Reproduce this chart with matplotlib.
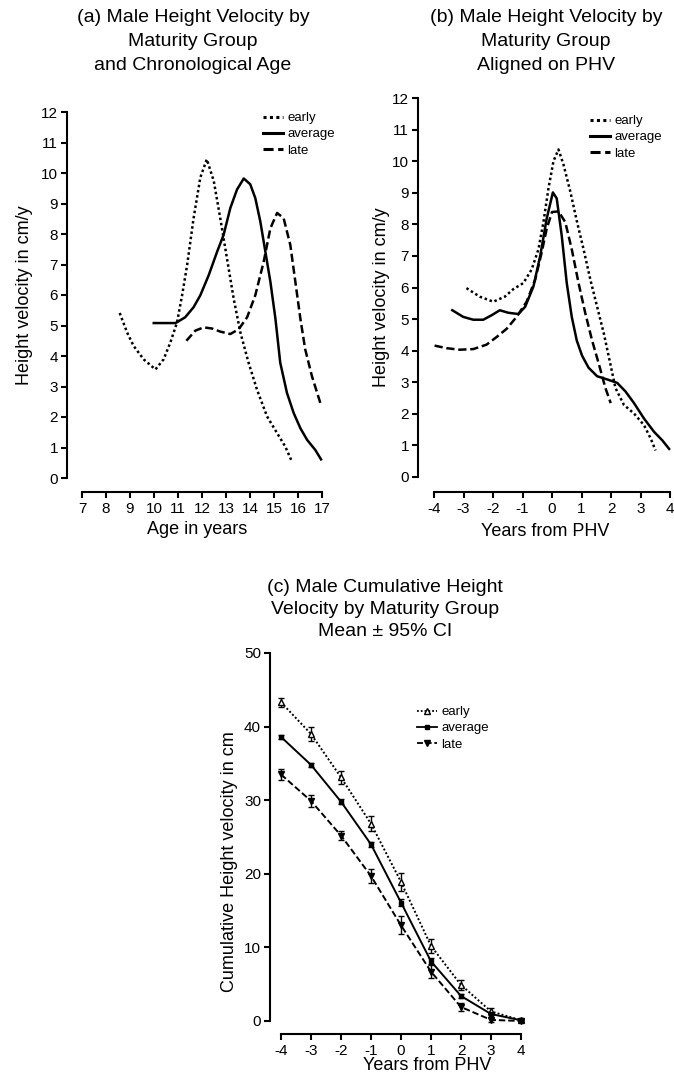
import numpy as np
import matplotlib
matplotlib.use("Agg")
import matplotlib.pyplot as plt
from matplotlib.lines import Line2D

plt.rcParams['font.family'] = ['Liberation Sans', 'DejaVu Sans']
plt.rcParams['axes.unicode_minus'] = False

# ---------------- data ----------------
# Panel (a): height velocity vs chronological age
a_early_x = [8.57, 8.88, 9.15, 9.57, 10.06, 10.4, 10.68, 10.96, 11.17, 11.38, 11.65, 11.93, 12.2,
             12.49, 12.76, 13.04, 13.32, 13.6, 13.94, 14.29, 14.71, 15.13, 15.47, 15.75]
a_early_y = [5.41, 4.77, 4.33, 3.89, 3.56, 3.89, 4.44, 5.1, 5.99, 6.98, 8.52, 9.85, 10.45,
             9.74, 8.52, 7.2, 5.88, 4.77, 3.78, 2.9, 2.02, 1.47, 1.03, 0.53]
a_avg_x = [9.99, 10.9, 11.3, 11.65, 11.93, 12.28, 12.63, 12.9, 13.18, 13.46, 13.74, 14.01, 14.22,
           14.43, 14.64, 14.85, 15.06, 15.26, 15.54, 15.82, 16.1, 16.38, 16.72, 16.96]
a_avg_y = [5.08, 5.08, 5.27, 5.6, 5.99, 6.65, 7.42, 7.97, 8.85, 9.46, 9.82, 9.63, 9.18,
           8.41, 7.42, 6.43, 5.22, 3.78, 2.79, 2.13, 1.63, 1.25, 0.92, 0.61]
a_late_x = [11.35, 11.72, 12.07, 12.42, 12.76, 13.18, 13.53, 13.88, 14.22, 14.57, 14.85, 15.13,
            15.4, 15.68, 15.89, 16.1, 16.3, 16.58, 16.93]
a_late_y = [4.5, 4.83, 4.94, 4.9, 4.8, 4.72, 4.88, 5.27, 5.99, 7.09, 8.19, 8.69,
            8.52, 7.64, 6.43, 5.22, 4.22, 3.34, 2.46]

# Panel (b): height velocity aligned on PHV
b_early_x = [-2.9, -2.45, -1.99, -1.6, -1.31, -0.97, -0.69, -0.46, -0.29, -0.12, 0.05, 0.22, 0.39,
             0.62, 0.85, 1.07, 1.3, 1.53, 1.76, 1.98, 2.15, 2.44, 2.78, 3.12, 3.35, 3.51]
b_early_y = [5.98, 5.71, 5.55, 5.71, 5.95, 6.14, 6.57, 7.21, 8.07, 9.14, 10.0, 10.37, 9.89,
             9.04, 8.07, 7.21, 6.25, 5.39, 4.53, 3.57, 2.82, 2.28, 2.01, 1.64, 1.21, 0.84]
b_avg_x = [-3.38, -3.01, -2.67, -2.33, -2.05, -1.77, -1.48, -1.14, -0.91, -0.63, -0.4, -0.18, 0.03,
           0.16, 0.33, 0.5, 0.67, 0.84, 1.02, 1.24, 1.53, 1.87, 2.21, 2.49, 2.78, 3.12, 3.46, 3.74, 3.97]
b_avg_y = [5.28, 5.07, 4.98, 4.98, 5.12, 5.28, 5.2, 5.16, 5.39, 6.03, 7.0, 8.18, 9.01,
           8.82, 7.64, 6.14, 5.07, 4.32, 3.84, 3.46, 3.19, 3.09, 2.98, 2.71, 2.34, 1.85, 1.43, 1.16, 0.89]
b_late_x = [-3.98, -3.58, -3.13, -2.67, -2.22, -1.88, -1.54, -1.2, -0.86, -0.57, -0.35, -0.18, 0.0,
            0.22, 0.45, 0.67, 0.9, 1.13, 1.36, 1.59, 1.81, 1.99]
b_late_y = [4.16, 4.08, 4.03, 4.05, 4.19, 4.43, 4.69, 5.07, 5.55, 6.25, 7.11, 7.86, 8.39,
            8.41, 8.07, 7.21, 6.14, 5.18, 4.32, 3.57, 2.82, 2.34]

# Panel (c): cumulative height velocity, mean +/- 95% CI
c_x = [-4, -3, -2, -1, 0, 1, 2, 3, 4]
c_early = [43.3, 39.0, 33.1, 26.8, 18.9, 10.2, 4.9, 1.3, 0.1]
c_early_ci = [0.6, 1.0, 0.9, 1.0, 1.2, 1.0, 0.7, 0.4, 0.2]
c_avg = [38.6, 34.8, 29.8, 24.0, 16.1, 8.1, 3.4, 0.95, 0.1]
c_avg_ci = [0.3, 0.3, 0.3, 0.3, 0.5, 0.4, 0.3, 0.2, 0.1]
c_late = [33.5, 29.9, 25.2, 19.7, 13.0, 6.7, 1.9, 0.15, 0.0]
c_late_ci = [0.8, 0.8, 0.6, 0.9, 1.2, 0.9, 0.6, 0.3, 0.1]

labels = ['early', 'average', 'late']

# ---------------- layout ----------------
W, H = 674, 1074
fig = plt.figure(figsize=(W / 100, H / 100), dpi=100)


def add_ax(left, right, top, bottom):
    return fig.add_axes([left / W, 1 - bottom / H, (right - left) / W, (bottom - top) / H])


def px(x, y):
    return x / W, 1 - y / H


DOT = (0, (1, 1.1))
DASH = (0, (3.3, 1.5))
LW = 1.8
TICKFS = 11
LABFS = 13
TITFS = 14


def style(ax, ylo, yhi, xlo, xhi, outward):
    for s in ['top', 'right']:
        ax.spines[s].set_visible(False)
    ax.spines['left'].set_bounds(ylo, yhi)
    ax.spines['bottom'].set_bounds(xlo, xhi)
    ax.spines['bottom'].set_position(('outward', outward))
    for s in ['left', 'bottom']:
        ax.spines[s].set_linewidth(1.5)
    ax.tick_params(axis='both', direction='out', length=4.5, width=1.5, labelsize=TICKFS)
    ax.tick_params(axis='y', pad=2)
    ax.tick_params(axis='x', pad=2.5)
    ax.patch.set_visible(False)


# Panel (a)
ax_a = add_ax(67, 322, 112, 478)
ax_a.plot(a_early_x, a_early_y, color='black', lw=LW, ls=DOT, clip_on=False)
ax_a.plot(a_avg_x, a_avg_y, color='black', lw=LW, ls='-', clip_on=False)
ax_a.plot(a_late_x, a_late_y, color='black', lw=LW, ls=DASH, clip_on=False)
ax_a.set_xlim(7 - 15 / 24, 17)
ax_a.set_ylim(0, 12)
ax_a.set_yticks(range(0, 13))
ax_a.set_xticks(range(7, 18))
style(ax_a, 0, 12, 7, 17, 10.1)

# Panel (b)
ax_b = add_ax(418, 670, 98, 477)
ax_b.plot(b_early_x, b_early_y, color='black', lw=LW, ls=DOT, clip_on=False)
ax_b.plot(b_avg_x, b_avg_y, color='black', lw=LW, ls='-', clip_on=False)
ax_b.plot(b_late_x, b_late_y, color='black', lw=LW, ls=DASH, clip_on=False)
ax_b.set_xlim(-4 - 16 / 29.5, 4)
ax_b.set_ylim(0, 12)
ax_b.set_yticks(range(0, 13))
ax_b.set_xticks(range(-4, 5))
style(ax_b, 0, 12, -4, 4, 10.8)

# Panel (c)
ax_c = add_ax(270, 521, 653, 1021)
LWC = 1.4
ax_c.errorbar(c_x, c_early, yerr=c_early_ci, color='black', lw=LWC, ls=DOT, marker='^',
              ms=4, mfc='white', mew=1, elinewidth=1, capsize=2.5, capthick=1, clip_on=False)
ax_c.errorbar(c_x, c_avg, yerr=c_avg_ci, color='black', lw=LWC, ls='-', marker='s',
              ms=3, mfc='black', mew=1, elinewidth=1, capsize=2, capthick=1, clip_on=False)
ax_c.errorbar(c_x, c_late, yerr=c_late_ci, color='black', lw=LWC, ls=DASH, marker='v',
              ms=4, mfc='black', mew=1, elinewidth=1, capsize=2.5, capthick=1, clip_on=False)
ax_c.set_xlim(-4 - 11 / 30, 4)
ax_c.set_ylim(0, 50)
ax_c.set_yticks(range(0, 51, 10))
ax_c.set_xticks(range(-4, 5))
style(ax_c, 0, 50, -4, 4, 9.4)

# Legends
def add_legend(ax, x, y, handles):
    ax.legend(handles=handles, labels=labels, loc='upper left', bbox_to_anchor=px(x, y),
              bbox_transform=fig.transFigure, frameon=False, fontsize=9.5, borderpad=0,
              handlelength=1.55, handletextpad=0.3, labelspacing=0.3, borderaxespad=0)

h_lines = [Line2D([], [], color='black', lw=2.2, ls=DOT),
           Line2D([], [], color='black', lw=2.2, ls='-'),
           Line2D([], [], color='black', lw=2.2, ls=DASH)]
add_legend(ax_a, 263, 112, h_lines)
add_legend(ax_b, 590, 115, h_lines)
h_c = [Line2D([], [], color='black', lw=1.3, ls=DOT, marker='^', ms=4, mfc='white'),
       Line2D([], [], color='black', lw=1.3, ls='-', marker='s', ms=3),
       Line2D([], [], color='black', lw=1.3, ls=DASH, marker='v', ms=4)]
add_legend(ax_c, 417, 706, h_c)

# Titles
for txt, yy in [('(a) Male Height Velocity by', 18), ('Maturity Group', 42), ('and Chronological Age', 65)]:
    fig.text(*px(193, yy), txt, ha='center', va='center', fontsize=TITFS)
for txt, yy in [('(b) Male Height Velocity by', 18), ('Maturity Group', 42), ('Aligned on PHV', 65)]:
    fig.text(*px(546, yy), txt, ha='center', va='center', fontsize=TITFS)
for txt, yy in [('(c) Male Cumulative Height', 588), ('Velocity by Maturity Group', 610),
                ('Mean \u00b1 95% CI', 632)]:
    fig.text(*px(385, yy), txt, ha='center', va='center', fontsize=TITFS)

# Axis labels
fig.text(*px(197, 529), 'Age in years', ha='center', va='center', fontsize=LABFS)
fig.text(*px(545, 531), 'Years from PHV', ha='center', va='center', fontsize=LABFS)
fig.text(*px(427, 1066), 'Years from PHV', ha='center', va='center', fontsize=LABFS)
fig.text(*px(25, 295), 'Height velocity in cm/y', ha='center', va='center', rotation=90, fontsize=LABFS)
fig.text(*px(381, 297), 'Height velocity in cm/y', ha='center', va='center', rotation=90, fontsize=LABFS)
fig.text(*px(230, 862), 'Cumulative Height velocity in cm', ha='center', va='center', rotation=90, fontsize=LABFS)

fig.savefig('out.png', dpi=100, facecolor='white')
